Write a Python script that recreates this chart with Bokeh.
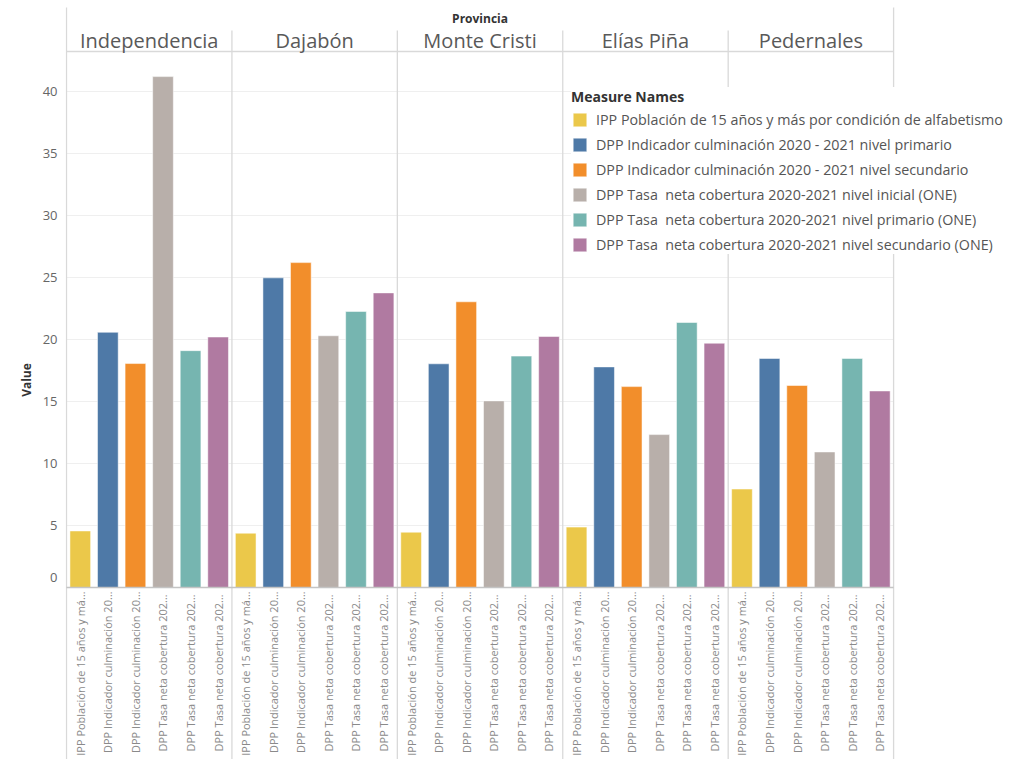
import math
from bokeh.plotting import figure
from bokeh.models import Range1d, ColumnDataSource, LinearAxis, FixedTicker, Legend, LegendItem
from bokeh.core.properties import value
from bokeh.embed import file_html
from bokeh.resources import INLINE

# ---------------- data ----------------
provinces = ["Independencia", "Dajabón", "Monte Cristi", "Elías Piña", "Pedernales"]
measures = [
    "IPP Población de 15 años y más por condición de alfabetismo",
    "DPP Indicador culminación 2020 - 2021 nivel primario",
    "DPP Indicador culminación 2020 - 2021 nivel secundario",
    "DPP Tasa  neta cobertura 2020-2021 nivel inicial (ONE)",
    "DPP Tasa  neta cobertura 2020-2021 nivel primario (ONE)",
    "DPP Tasa  neta cobertura 2020-2021 nivel secundario (ONE)",
]
short_labels = [
    "IPP Población de 15 años y má…",
    "DPP Indicador culminación 20…",
    "DPP Indicador culminación 20…",
    "DPP Tasa  neta cobertura 202…",
    "DPP Tasa  neta cobertura 202…",
    "DPP Tasa  neta cobertura 202…",
]
ipp_poblacion = [4.56, 4.38, 4.46, 4.87, 7.94]
dpp_culm_primario = [20.58, 24.97, 18.04, 17.79, 18.47]
dpp_culm_secundario = [18.06, 26.2, 23.04, 16.2, 16.29]
tasa_inicial = [41.2, 20.3, 15.05, 12.33, 10.93]
tasa_primario = [19.1, 22.26, 18.66, 21.37, 18.47]
tasa_secundario = [20.2, 23.76, 20.24, 19.7, 15.85]
series = [ipp_poblacion, dpp_culm_primario, dpp_culm_secundario,
          tasa_inicial, tasa_primario, tasa_secundario]
colors = ["#EBC84A", "#4E79A7", "#F28E2B", "#B8AFAA", "#76B5B0", "#B07AA1"]
y_ticks = [0, 5, 10, 15, 20, 25, 30, 35, 40]
header_title = "Provincia"
legend_title = "Measure Names"
y_label = "Value"

# ---------------- geometry ----------------
PX_X = 27.57          # pixels per bar slot
PX_Y = 12.4           # pixels per value unit
W, H = 1005, 759
LEFT = 65
ZERO_Y = 587
x0 = -1.0 / PX_X
x1 = x0 + (W - LEFT) / PX_X
y0 = -(H - ZERO_Y) / PX_Y
y1 = ZERO_Y / PX_Y
ZERO_LABEL_LIFT = 0.8   # the "0" tick label sits just above the axis line

def py(page_y):
    return (ZERO_Y - page_y) / PX_Y

n_meas = len(measures)
n_prov = len(provinces)
n_slots = n_meas * n_prov

p = figure(width=W, height=H, output_backend="svg", toolbar_location=None,
           x_range=Range1d(x0, x1), y_range=Range1d(y0, y1),
           x_axis_type=None, y_axis_type=None,
           min_border_left=LEFT, min_border_right=0, min_border_top=0, min_border_bottom=0)
p.outline_line_color = None
p.background_fill_color = "white"
p.border_fill_color = "white"

FONT = value("Open Sans")

# grid lines
p.segment(x0=[0] * (len(y_ticks) - 1), x1=[n_slots] * (len(y_ticks) - 1),
          y0=y_ticks[1:], y1=y_ticks[1:], line_color="#efefef", line_width=1)

# panel dividers
div_x = [i * n_meas for i in range(1, n_prov)]
p.segment(x0=div_x, x1=div_x, y0=[py(30)] * len(div_x), y1=[y0 - 1] * len(div_x),
          line_color="#d9d9d9", line_width=1.3)
# outer borders
p.segment(x0=[0, n_slots], x1=[0, n_slots], y0=[py(7)] * 2, y1=[y0 - 1] * 2,
          line_color="#d9d9d9", line_width=1.3)
# header bottom line
p.segment(x0=[0], x1=[n_slots], y0=[py(51)], y1=[py(51)], line_color="#d9d9d9", line_width=1.3)

# bars
items = []
for j, (name, vals) in enumerate(zip(measures, series)):
    src = ColumnDataSource(dict(x=[i * n_meas + j + 0.5 for i in range(n_prov)], top=vals))
    r = p.vbar(x="x", top="top", bottom=0, width=0.75, source=src,
               fill_color=colors[j], line_color="white", line_alpha=0.5, line_width=1)
    items.append(LegendItem(label=name, renderers=[r]))

# zero axis line
p.segment(x0=[0], x1=[n_slots], y0=[0], y1=[0], line_color="#c4c4c4", line_width=1.5)

# header texts
p.text(x=[n_slots / 2], y=[py(18)], text=[header_title], text_align="center",
       text_baseline="middle", text_font=FONT, text_font_size="12px",
       text_font_style="bold", text_color="#333333")
p.text(x=[i * n_meas + n_meas / 2 for i in range(n_prov)], y=[py(40)] * n_prov,
       text=provinces, text_align="center", text_baseline="middle",
       text_font=FONT, text_font_size="20px", text_color="#595959")

# bottom category labels (rotated)
lab_x = [k + 0.5 for k in range(n_slots)]
lab_t = [short_labels[k % n_meas] for k in range(n_slots)]
p.text(x=lab_x, y=[py(591)] * n_slots, text=lab_t, angle=math.pi / 2,
       text_align="right", text_baseline="middle", text_font=FONT,
       text_font_size="11px", text_color="#8a8a8a")

# y axis
tick_pos = [ZERO_LABEL_LIFT] + y_ticks[1:]
yaxis = LinearAxis(ticker=FixedTicker(ticks=tick_pos), axis_label=y_label,
                   major_label_overrides={ZERO_LABEL_LIFT: str(y_ticks[0])})
yaxis.axis_line_color = None
yaxis.major_tick_line_color = None
yaxis.minor_tick_line_color = None
yaxis.major_label_standoff = 2
yaxis.major_label_text_font = "Open Sans"
yaxis.major_label_text_font_size = "13px"
yaxis.major_label_text_color = "#666666"
yaxis.axis_label_text_font = "Open Sans"
yaxis.axis_label_text_font_size = "12px"
yaxis.axis_label_text_font_style = "bold"
yaxis.axis_label_text_color = "#333333"
yaxis.axis_label_standoff = 5
p.add_layout(yaxis, "left")

# legend
legend = Legend(items=items, location=(506, 505), title=legend_title,
                title_text_font="Open Sans", title_text_font_size="14px",
                title_text_font_style="bold", title_text_color="#333333",
                title_standoff=3,
                label_text_font="Open Sans", label_text_font_size="14.3px",
                label_text_color="#555555",
                glyph_width=17, glyph_height=17, label_height=20, spacing=5,
                label_standoff=8, padding=10, margin=0,
                background_fill_color="white", background_fill_alpha=1.0,
                border_line_color=None)
p.add_layout(legend)

open("out.html", "w").write(file_html(p, INLINE))
